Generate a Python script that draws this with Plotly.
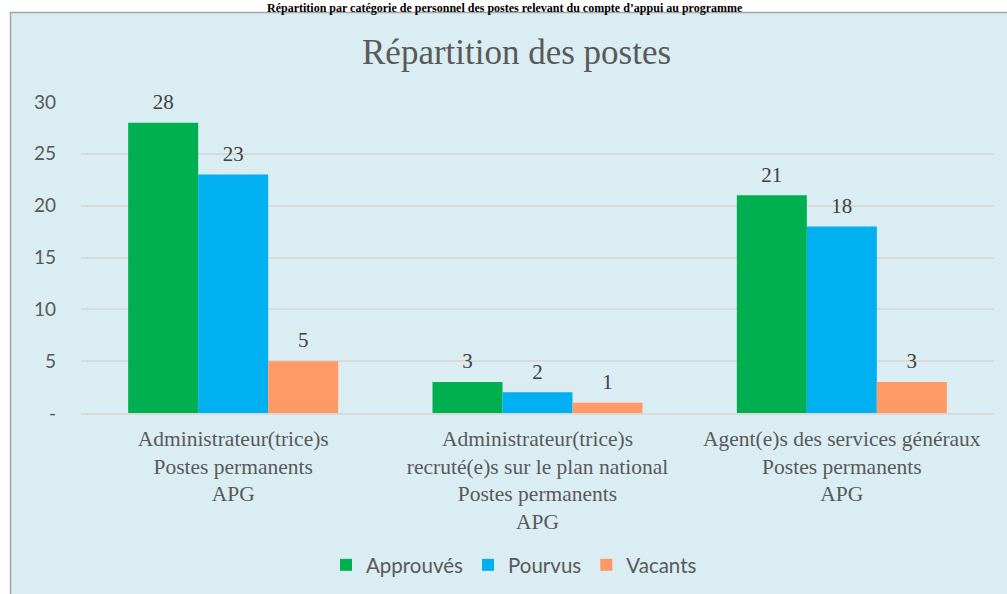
import plotly.graph_objects as go

categories = [
    "Administrateur(trice)s<br>Postes permanents<br>APG",
    "Administrateur(trice)s<br>recruté(e)s sur le plan national<br>Postes permanents<br>APG",
    "Agent(e)s des services généraux<br>Postes permanents<br>APG",
]
series_names = ["Approuvés", "Pourvus", "Vacants"]
approuves = [28, 3, 21]
pourvus = [23, 2, 18]
vacants = [5, 1, 3]
colors = ["#00B050", "#00B0F0", "#FF9966"]
y_tickvals = [0, 5, 10, 15, 20, 25, 30]
y_ticktext = ["-", "5", "10", "15", "20", "25", "30"]

W, H = 1007, 594
L, R, T, B = 81, 13, 102, 181
pw, ph = W - L - R, H - T - B

def px_x(x):
    return (x - L) / pw

def px_y(y):
    return (H - B - y) / ph

SERIF = "Liberation Serif, Times New Roman, serif"
SANS = "Lato, Carlito, Calibri, sans-serif"

fig = go.Figure()
for name, vals, col in zip(series_names, [approuves, pourvus, vacants], colors):
    fig.add_trace(go.Bar(
        name=name, x=categories, y=vals,
        marker=dict(color=col, line=dict(width=0)),
        offsetgroup=name,
    ))
for name, vals in zip(series_names, [approuves, pourvus, vacants]):
    fig.add_trace(go.Scatter(
        x=categories, y=vals, mode="markers+text",
        text=[str(v) for v in vals], textposition="top center",
        textfont=dict(family=SERIF, size=21, color="#404040"),
        marker=dict(size=12, color="rgba(0,0,0,0)"),
        offsetgroup=name, showlegend=False, hoverinfo="skip",
        cliponaxis=False,
    ))

fig.update_layout(
    width=W, height=H,
    margin=dict(l=L, r=R, t=T, b=B, pad=0, autoexpand=False),
    paper_bgcolor="white",
    plot_bgcolor="rgba(0,0,0,0)",
    barmode="group",
    bargap=0.31,
    bargroupgap=0,
    scattermode="group",
    scattergap=0.31,
    showlegend=True,
    legend=dict(
        orientation="h", x=px_x(514), xanchor="center",
        y=px_y(565), yanchor="middle",
        font=dict(family=SANS, size=20.5, color="#595959"),
        bgcolor="rgba(0,0,0,0)", itemwidth=30,
        traceorder="normal",
    ),
    shapes=[dict(
        type="rect", xref="paper", yref="paper", layer="below",
        x0=px_x(10.5), x1=px_x(1015), y0=px_y(600), y1=px_y(12.5),
        fillcolor="#DAEDF3", line=dict(color="#A6A6A6", width=1.5),
    )],
    annotations=[
        dict(
            text="Répartition des postes", xref="paper", yref="paper",
            x=px_x(516), y=px_y(52), xanchor="center", yanchor="middle",
            showarrow=False,
            font=dict(family=SERIF, size=35, color="#595959"),
        ),
        dict(
            text="Répartition par catégorie de personnel des postes relevant du compte d’appui au programme",
            xref="paper", yref="paper",
            x=px_x(505), y=px_y(-1), xanchor="center", yanchor="top",
            showarrow=False,
            font=dict(family=SERIF, size=12, color="#000000", weight="bold"),
        ),
    ],
)

fig.update_yaxes(
    range=[0, 30], tickvals=y_tickvals, ticktext=y_ticktext,
    showgrid=True, gridcolor="#D9D9D9", gridwidth=1.5,
    zeroline=False, showline=False, ticks="",
    ticklabelstandoff=24,
    tickfont=dict(family=SANS, size=19, color="#595959"),
)
fig.update_xaxes(
    showline=True, linecolor="#D9D9D9", linewidth=1.5, ticks="",
    showgrid=False,
    ticklabelstandoff=5,
    tickfont=dict(family=SERIF, size=21.5, color="#595959"),
)

fig.write_html(
    "out.html",
    config={"displayModeBar": False},
    post_script="document.body.style.margin='0';document.body.style.overflow='hidden';",
)
